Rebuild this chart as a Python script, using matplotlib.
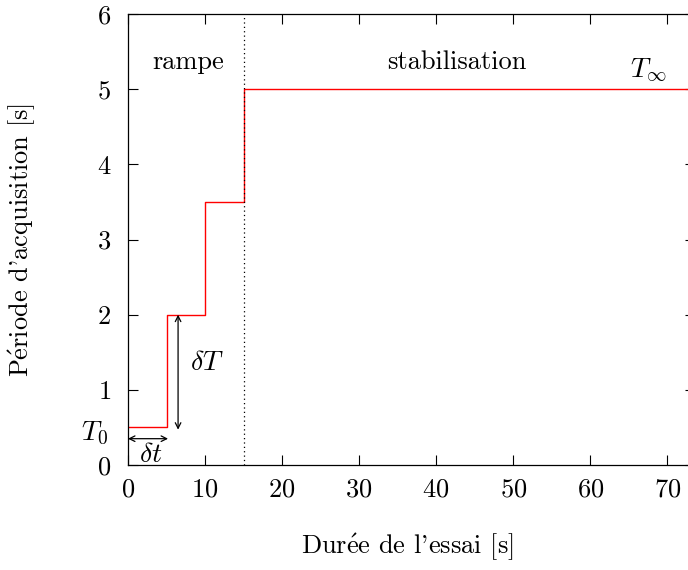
import matplotlib
matplotlib.use("Agg")
import matplotlib.pyplot as plt

plt.rcParams["font.family"] = ["cmr10", "DejaVu Serif"]
plt.rcParams["mathtext.fontset"] = "cm"
plt.rcParams["axes.formatter.use_mathtext"] = True
plt.rcParams["axes.unicode_minus"] = False

# données : période d'acquisition en escalier
t_edges = [0, 5, 10, 15, 80]
periode = [0.5, 2.0, 3.5, 5.0, 5.0]
t_ramp_end = 15
xticks = [0, 10, 20, 30, 40, 50, 60, 70]
yticks = [0, 1, 2, 3, 4, 5, 6]

FS = 19

fig = plt.figure(figsize=(6.88, 5.70), dpi=100)
ax = fig.add_axes([128 / 688, 105 / 570, 567 / 688, 451 / 570])

ax.step(t_edges, periode, where="post", color="#ff0000", lw=1.0)
ax.axvline(t_ramp_end, color="black", lw=0.9, ls=(0, (1, 2.5)))

ax.set_xlim(0, 73.6)
ax.set_ylim(0, 6)
ax.set_xticks(xticks)
ax.set_yticks(yticks)
ax.tick_params(direction="in", length=7, width=0.8, top=True, right=True,
               labelsize=FS)
ax.tick_params(axis="x", pad=9)
ax.tick_params(axis="y", pad=12)
for s in ax.spines.values():
    s.set_linewidth(0.9)

# annotations
ax.text(7.8, 5.36, "rampe", fontsize=FS, ha="center", va="center")
ax.text(42.7, 5.36, "stabilisation", fontsize=FS, ha="center", va="center")
ax.text(67.5, 5.25, r"$T_\infty$", fontsize=FS + 1, ha="center", va="center")
ax.text(-4.3, 0.42, r"$T_0$", fontsize=FS + 1, ha="center", va="center",
        clip_on=False)

ax.annotate("", xy=(6.5, 2.0), xytext=(6.5, 0.47),
            arrowprops=dict(arrowstyle="<->", color="black", lw=0.9,
                            shrinkA=0, shrinkB=0))
ax.text(10.3, 1.36, r"$\delta T$", fontsize=FS + 1, ha="center", va="center")

ax.annotate("", xy=(0, 0.35), xytext=(5.2, 0.35),
            arrowprops=dict(arrowstyle="<->", color="black", lw=0.9,
                            shrinkA=0, shrinkB=0))
ax.text(2.9, 0.14, r"$\delta t$", fontsize=FS + 1, ha="center", va="center")

fig.text(407 / 688, 1 - 547 / 570, r"Dur$\acute{\mathrm{e}}$e de l'essai [s]",
         fontsize=FS, ha="center", va="center")
fig.text(22 / 688, 1 - 240 / 570, r"P$\acute{\mathrm{e}}$riode d'acquisition [s]",
         fontsize=FS, ha="center", va="center", rotation=90)

fig.savefig("out.png", dpi=100)
